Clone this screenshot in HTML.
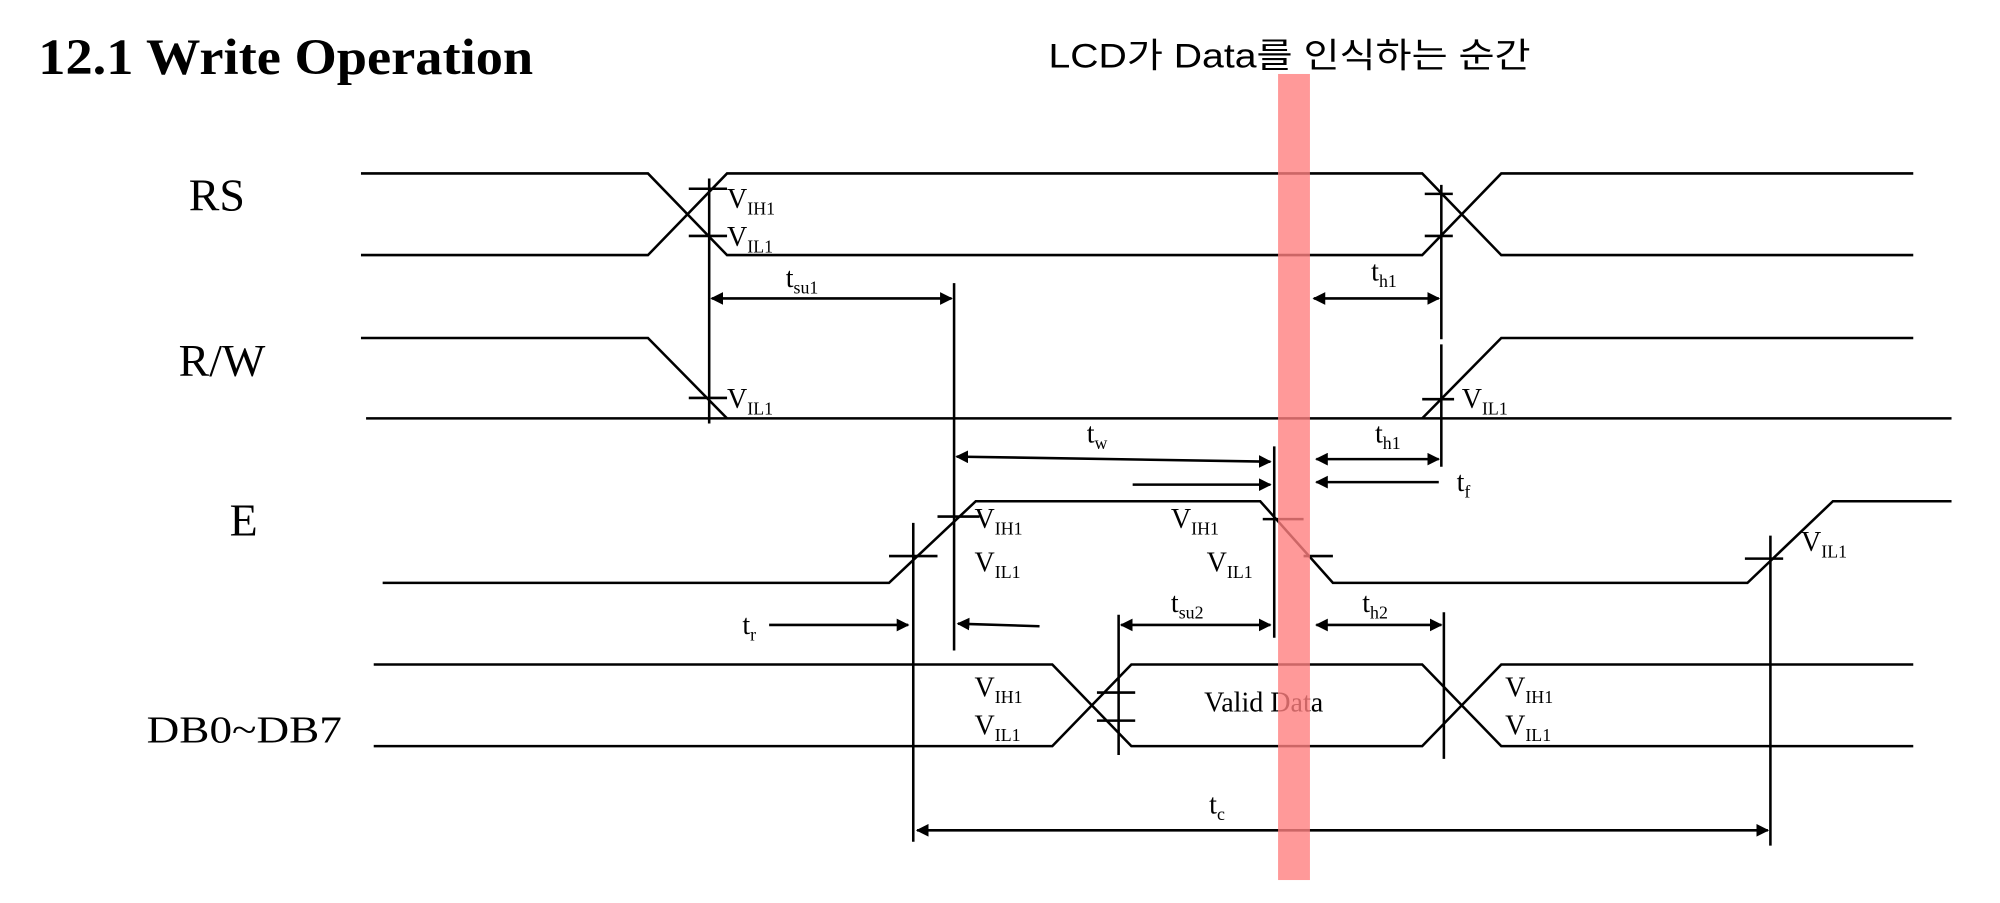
<!DOCTYPE html>
<html><head><meta charset="utf-8"><style>
html,body{margin:0;padding:0;background:#fff;width:2000px;height:903px;overflow:hidden}
svg{display:block}
text{font-family:"Liberation Serif",serif;fill:#000}
</style></head><body>
<svg width="2000" height="903" viewBox="0 0 1568 708" preserveAspectRatio="none" xmlns="http://www.w3.org/2000/svg">
<defs>
<marker id="a" markerWidth="10" markerHeight="10" refX="9" refY="5" orient="auto" markerUnits="userSpaceOnUse"><path d="M0,0 L10,5 L0,10 z" fill="#000"/></marker>
<marker id="b" markerWidth="10" markerHeight="10" refX="1" refY="5" orient="auto" markerUnits="userSpaceOnUse"><path d="M10,0 L0,5 L10,10 z" fill="#000"/></marker>
</defs>
<text x="30" y="58" font-size="40" font-weight="bold" textLength="388" lengthAdjust="spacingAndGlyphs">12.1 Write Operation</text>
<text x="822" y="53" font-size="27" textLength="378" lengthAdjust="spacingAndGlyphs" style="font-family:'Liberation Sans','Noto Sans CJK KR',sans-serif">LCD가 Data를 인식하는 순간</text>

<g stroke="#000" stroke-width="2" fill="none">
<polyline points="283,136 508,136 570,200 1115,200 1177,136 1500,136"/>
<polyline points="283,200 508,200 570,136 1115,136 1177,200 1500,200"/>
<line x1="556" y1="140" x2="556" y2="332"/>
<line x1="540" y1="148" x2="570" y2="148"/><line x1="540" y1="185" x2="570" y2="185"/>
<line x1="1130" y1="145" x2="1130" y2="266"/>
<line x1="1117" y1="152" x2="1139" y2="152"/><line x1="1117" y1="185" x2="1139" y2="185"/>
<line x1="558" y1="234" x2="746" y2="234" marker-start="url(#b)" marker-end="url(#a)"/>
<line x1="748" y1="222" x2="748" y2="510"/>
<line x1="1030" y1="234" x2="1128" y2="234" marker-start="url(#b)" marker-end="url(#a)"/>
<polyline points="283,265 508,265 570,328"/>
<line x1="287" y1="328" x2="1530" y2="328"/>
<polyline points="1115,328 1177,265 1500,265"/>
<line x1="540" y1="312" x2="570" y2="312"/>
<line x1="1130" y1="270" x2="1130" y2="366"/>
<line x1="1115" y1="313" x2="1140" y2="313"/>
<line x1="750" y1="358" x2="996" y2="362" marker-start="url(#b)" marker-end="url(#a)"/>
<line x1="1032" y1="360" x2="1128" y2="360" marker-start="url(#b)" marker-end="url(#a)"/>
<line x1="888" y1="380" x2="996" y2="380" marker-end="url(#a)"/>
<line x1="1128" y1="378" x2="1032" y2="378" marker-end="url(#a)"/>
<line x1="999" y1="350" x2="999" y2="500"/>
<polyline points="300,457 697,457 765,393 988,393 1045,457 1370,457 1437,393 1530,393"/>
<line x1="697" y1="436" x2="735" y2="436"/><line x1="735" y1="405" x2="768" y2="405"/>
<line x1="990" y1="407" x2="1022" y2="407"/><line x1="1022" y1="436" x2="1045" y2="436"/>
<line x1="1368" y1="438" x2="1398" y2="438"/>
<line x1="716" y1="410" x2="716" y2="660"/>
<line x1="1388" y1="420" x2="1388" y2="663"/>
<line x1="603" y1="490" x2="712" y2="490" marker-end="url(#a)"/>
<line x1="815" y1="491" x2="751" y2="489" marker-end="url(#a)"/>
<line x1="879" y1="490" x2="996" y2="490" marker-start="url(#b)" marker-end="url(#a)"/>
<line x1="1032" y1="490" x2="1130" y2="490" marker-start="url(#b)" marker-end="url(#a)"/>
<line x1="877" y1="482" x2="877" y2="592"/>
<line x1="1132" y1="480" x2="1132" y2="595"/>
<polyline points="293,521 825,521 887,585 1115,585 1177,521 1500,521"/>
<polyline points="293,585 825,585 887,521 1115,521 1177,585 1500,585"/>
<line x1="860" y1="543" x2="890" y2="543"/><line x1="860" y1="565" x2="890" y2="565"/>
<line x1="719" y1="651" x2="1386" y2="651" marker-start="url(#b)" marker-end="url(#a)"/>
</g>

<g font-size="36"><text x="148" y="165">RS</text><text x="140" y="295">R/W</text><text x="180" y="420">E</text></g>
<text x="115" y="582" font-size="30" textLength="153" lengthAdjust="spacingAndGlyphs">DB0~DB7</text>

<g font-size="22">
<text x="570" y="163">V<tspan font-size="14" dy="5">IH1</tspan></text>
<text x="570" y="193">V<tspan font-size="14" dy="5">IL1</tspan></text>
<text x="570" y="320">V<tspan font-size="14" dy="5">IL1</tspan></text>
<text x="1146" y="320">V<tspan font-size="14" dy="5">IL1</tspan></text>
<text x="616" y="225">t<tspan font-size="14" dy="5">su1</tspan></text>
<text x="1075" y="220">t<tspan font-size="14" dy="5">h1</tspan></text>
<text x="852" y="347">t<tspan font-size="14" dy="5">w</tspan></text>
<text x="1078" y="347">t<tspan font-size="14" dy="5">h1</tspan></text>
<text x="1142" y="385">t<tspan font-size="14" dy="5">f</tspan></text>
<text x="764" y="414">V<tspan font-size="14" dy="5">IH1</tspan></text>
<text x="764" y="448">V<tspan font-size="14" dy="5">IL1</tspan></text>
<text x="918" y="414">V<tspan font-size="14" dy="5">IH1</tspan></text>
<text x="946" y="448">V<tspan font-size="14" dy="5">IL1</tspan></text>
<text x="1412" y="432">V<tspan font-size="14" dy="5">IL1</tspan></text>
<text x="582" y="497">t<tspan font-size="14" dy="5">r</tspan></text>
<text x="918" y="480">t<tspan font-size="14" dy="5">su2</tspan></text>
<text x="1068" y="480">t<tspan font-size="14" dy="5">h2</tspan></text>
<text x="764" y="546">V<tspan font-size="14" dy="5">IH1</tspan></text>
<text x="764" y="576">V<tspan font-size="14" dy="5">IL1</tspan></text>
<text x="1180" y="546">V<tspan font-size="14" dy="5">IH1</tspan></text>
<text x="1180" y="576">V<tspan font-size="14" dy="5">IL1</tspan></text>
<text x="944" y="558">Valid Data</text>
<text x="948" y="638">t<tspan font-size="14" dy="5">c</tspan></text>
</g>
<rect x="1002" y="58" width="25" height="632" fill="#ff8080" opacity="0.8"/>
</svg>
</body></html>
